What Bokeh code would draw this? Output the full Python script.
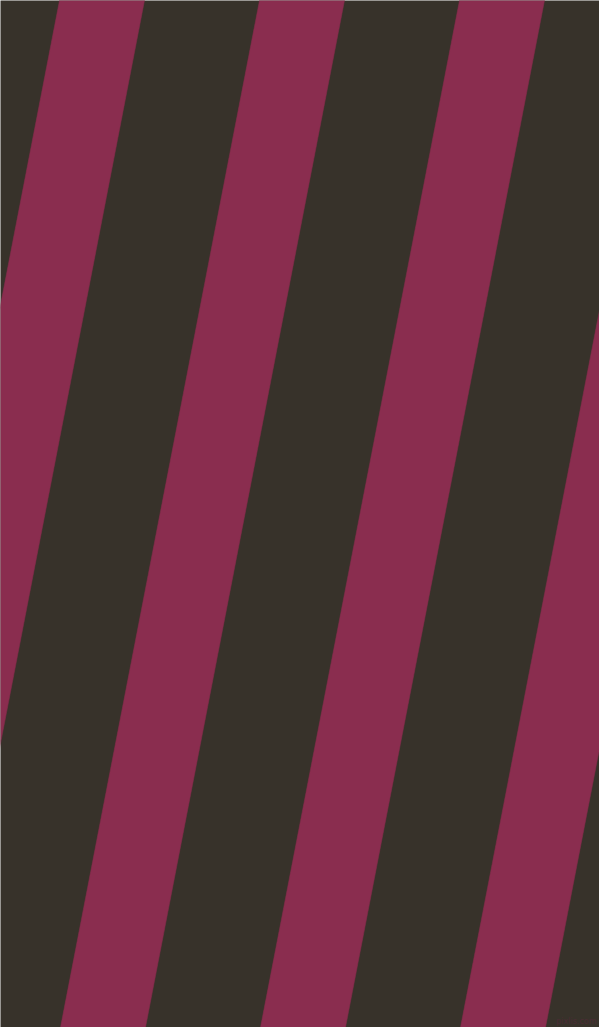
from bokeh.plotting import figure
from bokeh.models import Range1d
from bokeh.embed import file_html
from bokeh.resources import INLINE
from bokeh.core.properties import value

# Stripe pattern data (image pixel coordinates, y grows downward)
stripe_left_at_top = [-141, 59, 259, 459, 659]   # left edge of each magenta band at y=0
stripe_width = [85, 85, 85, 85, 85]              # horizontal width of each band
shift_per_px = 0.1938                            # leftward shift per pixel downward (~79 deg bands)
y_top = [-20]
y_bottom = [1047]
watermark = ["pixlis.com"]

dark_color = "#37322a"
band_color = "#8a2d4f"

W, H = 599, 1027

p = figure(width=W, height=H, output_backend="svg",
           toolbar_location=None, x_range=Range1d(0, W),
           y_range=Range1d(H, 0), min_border=0)
p.xaxis.visible = False
p.yaxis.visible = False
p.grid.visible = False
p.outline_line_color = None
p.background_fill_color = dark_color
p.border_fill_color = dark_color

xs, ys = [], []
for left, w in zip(stripe_left_at_top, stripe_width):
    y0, y1 = y_top[0], y_bottom[0]
    xl0 = left - shift_per_px * y0
    xl1 = left - shift_per_px * y1
    xs.append([xl0, xl0 + w, xl1 + w, xl1])
    ys.append([y0, y0, y1, y1])

p.patches(xs, ys, fill_color=band_color, line_color=band_color, line_width=0.5)

p.text(x=[596], y=[1021], text=watermark, text_font=value("DejaVu Sans"),
       text_font_size="8px", text_color="#4a2c34", text_align="right",
       text_baseline="alphabetic")

open("out.html", "w").write(file_html(p, INLINE))
